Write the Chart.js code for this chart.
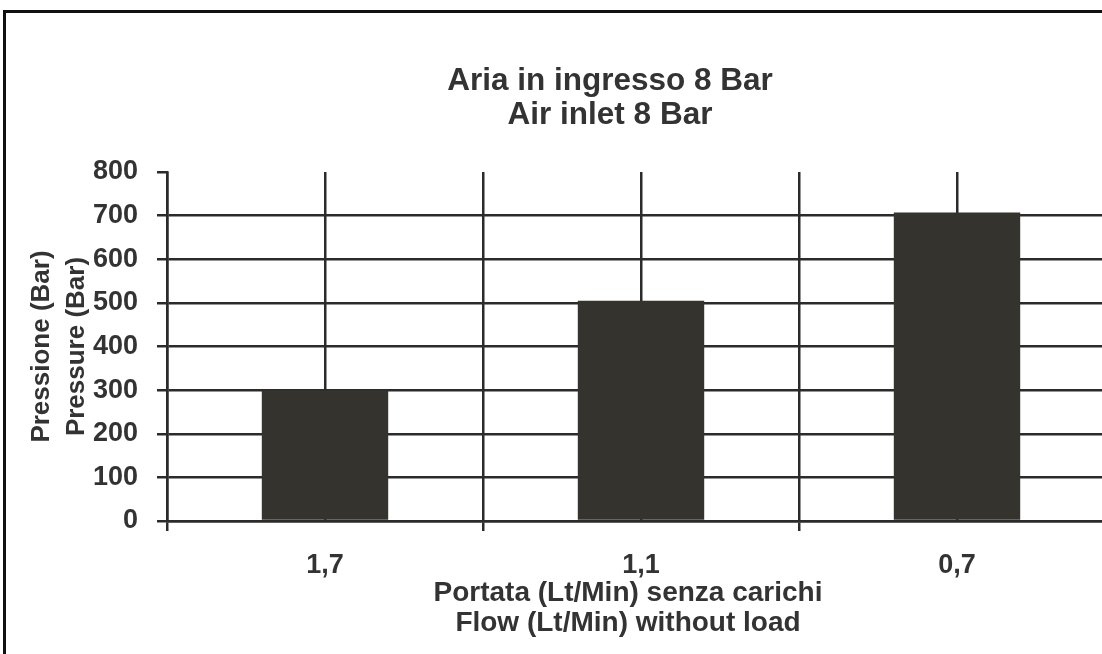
<!DOCTYPE html>
<html>
<head>
<meta charset="utf-8">
<title>Aria in ingresso 8 Bar</title>
<script src="https://cdn.jsdelivr.net/npm/chart.js@4.4.1/dist/chart.umd.min.js"></script>
<style>
    html, body { margin: 0; padding: 0; background: #fff; overflow: hidden; }
    #frame {
        position: absolute; left: 3px; top: 10px; width: 1200px; height: 800px;
        border-left: 3px solid #111; border-top: 3px solid #111;
    }
    #wrap { position: absolute; left: 0; top: 0; width: 1130px; height: 654px; }
</style>
</head>
<body>
<div id="frame"></div>
<div id="wrap"><canvas id="pressureChart" width="1130" height="654"></canvas></div>
<script>
// 數據
const categories = ['1,7', '1,1', '0,7'];
const pressureValues = [300, 505, 707];
const yTicks = [0, 100, 200, 300, 400, 500, 600, 700, 800];
const titleLines = ['Aria in ingresso 8 Bar', 'Air inlet 8 Bar'];
const yTitleLines = ['Pressione (Bar)', 'Pressure (Bar)'];
const xTitleLines = ['Portata (Lt/Min) senza carichi', 'Flow (Lt/Min) without load'];

const textColor = '#333333';
const lineColor = '#2b2b2b';
const barColor = '#35332e';
const fontFamily = '"Liberation Sans", Arial, Helvetica, sans-serif';

// 標題和 X 軸標題（掃描圖中不在繪圖區正中）
const scanTitles = {
    id: 'scanTitles',
    afterDraw(chart) {
        const ctx = chart.ctx;
        ctx.save();
        ctx.fillStyle = textColor;
        ctx.textAlign = 'center';
        ctx.textBaseline = 'middle';
        ctx.font = 'bold 31.5px ' + fontFamily;
        titleLines.forEach((t, i) => ctx.fillText(t, 610, 81 + i * 34));
        ctx.font = 'bold 28px ' + fontFamily;
        xTitleLines.forEach((t, i) => ctx.fillText(t, 628, 593 + i * 30));
        ctx.restore();
    }
};

const ctx = document.getElementById('pressureChart').getContext('2d');
new Chart(ctx, {
    type: 'bar',
    data: {
        labels: categories,
        datasets: [{
            data: pressureValues,
            backgroundColor: barColor,
            borderWidth: 0,
            barPercentage: 0.4,
            categoryPercentage: 1
        }]
    },
    options: {
        responsive: false,
        animation: false,
        devicePixelRatio: 1,
        layout: { padding: { top: 172, right: 15, bottom: 0, left: 0 } },
        plugins: {
            legend: { display: false },
            title: { display: false },
            tooltip: { enabled: false }
        },
        scales: {
            x: {
                offset: true,
                grid: { offset: true, color: lineColor, lineWidth: 2.5, tickLength: 10 },
                border: { display: true, color: lineColor, width: 2.5 },
                ticks: {
                    color: textColor,
                    padding: 18,
                    maxRotation: 0,
                    font: { family: fontFamily, size: 27, weight: 'bold' }
                },
                afterFit(scale) { scale.height = 133; }
            },
            // 類別中心的直線（被柱子蓋住）
            x2: {
                type: 'category',
                position: 'top',
                offset: true,
                grid: { offset: false, color: lineColor, lineWidth: 2.5, drawTicks: false },
                border: { display: false },
                ticks: { display: false },
                afterFit(scale) { scale.height = 0; }
            },
            y: {
                min: 0,
                max: 800,
                afterBuildTicks(scale) { scale.ticks = yTicks.map(v => ({ value: v })); },
                grid: {
                    color: c => (c.tick && c.tick.value === 800) ? 'rgba(0,0,0,0)' : lineColor,
                    tickColor: lineColor,
                    lineWidth: 2.5,
                    tickLength: 10
                },
                border: { display: true, color: lineColor, width: 2.5 },
                ticks: {
                    color: textColor,
                    padding: 19,
                    font: { family: fontFamily, size: 27, weight: 'bold' }
                },
                title: {
                    display: true,
                    text: yTitleLines,
                    color: textColor,
                    padding: { top: 24, bottom: 0 },
                    font: { family: fontFamily, size: 26, weight: 'bold', lineHeight: 1.35 }
                },
                afterFit(scale) { scale.width = 167; }
            }
        }
    },
    plugins: [scanTitles]
});
</script>
</body>
</html>
